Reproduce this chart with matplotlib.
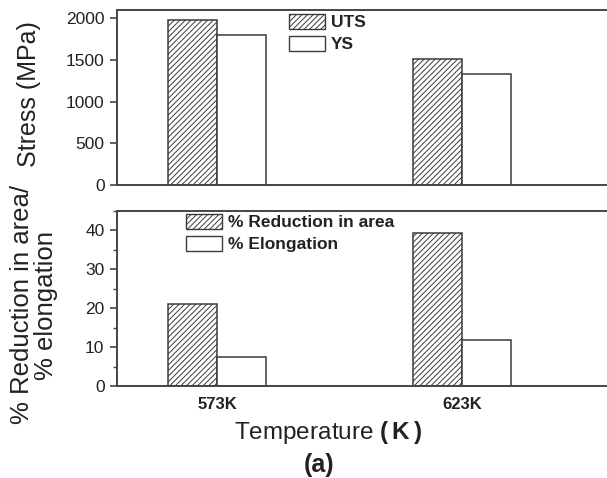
import matplotlib
matplotlib.use("Agg")
import matplotlib.pyplot as plt
from matplotlib.patches import Patch
from matplotlib.ticker import MultipleLocator
import numpy as np

plt.rcParams['font.family'] = ['Liberation Sans', 'DejaVu Sans']
plt.rcParams['mathtext.fontset'] = 'custom'
plt.rcParams['mathtext.rm'] = 'Liberation Sans'
plt.rcParams['mathtext.bf'] = 'Liberation Sans:bold'
plt.rcParams['hatch.color'] = '#707070'
plt.rcParams['hatch.linewidth'] = 0.7

# Test temperatures
temperatures = ['573K', '623K']

# Strength (MPa)
uts = [1985, 1515]
ys = [1800, 1335]

# Ductility (%)
reduction_in_area = [21.2, 39.4]
elongation = [7.5, 11.9]

HATCH = '//////'

W, H = 607, 478
fig = plt.figure(figsize=(W / 100, H / 100), dpi=100)

def fx(px):
    return px / W

def fy(py):
    return 1 - py / H

left, right = 117, 607
ax1 = fig.add_axes([fx(left), fy(185), fx(right - left), fy(10) - fy(185)])
ax2 = fig.add_axes([fx(left), fy(386), fx(right - left), fy(211) - fy(386)])

x = np.arange(len(temperatures))
bw = 0.2
edge = '#3a3a3a'

def style_axes(ax):
    for side in ['top', 'left', 'bottom']:
        ax.spines[side].set_color('#444444')
        ax.spines[side].set_linewidth(1.4)
    ax.spines['right'].set_visible(False)
    ax.tick_params(axis='y', which='major', direction='out', length=5, width=1.2,
                   colors='#444444', labelcolor='#222222', labelsize=12.5, pad=4)
    ax.tick_params(axis='y', which='minor', direction='out', length=3, width=1.0,
                   colors='#444444')
    ax.tick_params(axis='x', length=0)
    ax.set_xlim(-0.408, 1.592)

ax1.bar(x - bw / 2, uts, bw, facecolor='white', edgecolor=edge, linewidth=1.1,
        hatch=HATCH, label='UTS')
ax1.bar(x + bw / 2, ys, bw, facecolor='white', edgecolor=edge, linewidth=1.1,
        label='YS')
style_axes(ax1)
ax1.set_ylim(0, 2100)
ax1.yaxis.set_major_locator(MultipleLocator(500))
ax1.set_xticks([])

ax2.bar(x - bw / 2, reduction_in_area, bw, facecolor='white', edgecolor=edge,
        linewidth=1.1, hatch=HATCH, label='% Reduction in area')
ax2.bar(x + bw / 2, elongation, bw, facecolor='white', edgecolor=edge,
        linewidth=1.1, label='% Elongation')
style_axes(ax2)
ax2.set_ylim(0, 45)
ax2.yaxis.set_major_locator(MultipleLocator(10))
ax2.yaxis.set_minor_locator(MultipleLocator(5))
ax2.set_xticks(x)
ax2.set_xticklabels(temperatures, fontsize=12, fontweight='bold', color='#222222')
ax2.tick_params(axis='x', pad=8)

def add_legend(ax, labels, hatches, anchor):
    handles = [Patch(facecolor='white', edgecolor=edge, linewidth=1.0, hatch=h)
               for h in hatches]
    leg = ax.legend(handles, labels, loc='upper left', bbox_to_anchor=anchor,
                    bbox_transform=fig.transFigure, frameon=False,
                    prop={'weight': 'bold', 'size': 12.5}, handlelength=2.1,
                    handleheight=0.95, handletextpad=0.3, labelspacing=0.3,
                    borderpad=0, borderaxespad=0)
    for t in leg.get_texts():
        t.set_color('#222222')

add_legend(ax1, ['UTS', 'YS'], [HATCH, ''], (fx(289), fy(14)))
add_legend(ax2, ['% Reduction in area', '% Elongation'], [HATCH, ''],
           (fx(186), fy(214)))

fig.text(fx(29), fy(94), 'Stress (MPa)', rotation=90, ha='center', va='center',
         fontsize=18, color='#222222')
fig.text(fx(34), fy(305), '% Reduction in area/\n% elongation', rotation=90,
         ha='center', va='center', fontsize=18.5, color='#222222',
         linespacing=1.05, multialignment='center')
fig.text(fx(328), fy(432), r'Temperature $\mathbf{(\,K\,)}$', ha='center',
         va='center', fontsize=17.5, color='#222222')
fig.text(fx(319), fy(465), '(a)', ha='center', va='center', fontsize=18,
         fontweight='bold', color='#222222')

fig.savefig('out.png', dpi=100)
